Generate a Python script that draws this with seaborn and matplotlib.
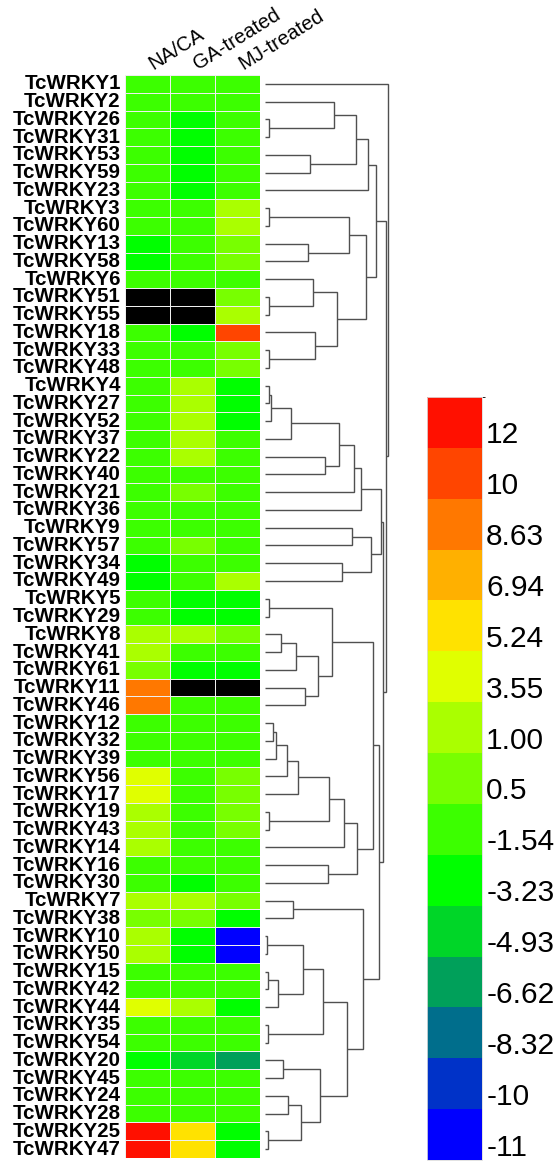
import numpy as np
import pandas as pd
import matplotlib
matplotlib.use("Agg")
import matplotlib.pyplot as plt
from matplotlib.colors import ListedColormap, BoundaryNorm
import matplotlib.transforms as mtransforms
import seaborn as sns

# ---------------- data ----------------
genes = ["TcWRKY1", "TcWRKY2", "TcWRKY26", "TcWRKY31", "TcWRKY53", "TcWRKY59", "TcWRKY23",
         "TcWRKY3", "TcWRKY60", "TcWRKY13", "TcWRKY58", "TcWRKY6", "TcWRKY51", "TcWRKY55",
         "TcWRKY18", "TcWRKY33", "TcWRKY48", "TcWRKY4", "TcWRKY27", "TcWRKY52", "TcWRKY37",
         "TcWRKY22", "TcWRKY40", "TcWRKY21", "TcWRKY36", "TcWRKY9", "TcWRKY57", "TcWRKY34",
         "TcWRKY49", "TcWRKY5", "TcWRKY29", "TcWRKY8", "TcWRKY41", "TcWRKY61", "TcWRKY11",
         "TcWRKY46", "TcWRKY12", "TcWRKY32", "TcWRKY39", "TcWRKY56", "TcWRKY17", "TcWRKY19",
         "TcWRKY43", "TcWRKY14", "TcWRKY16", "TcWRKY30", "TcWRKY7", "TcWRKY38", "TcWRKY10",
         "TcWRKY50", "TcWRKY15", "TcWRKY42", "TcWRKY44", "TcWRKY35", "TcWRKY54", "TcWRKY20",
         "TcWRKY45", "TcWRKY24", "TcWRKY28", "TcWRKY25", "TcWRKY47"]

treatments = ["NA/CA", "GA-treated", "MJ-treated"]

nan = np.nan
na_ca = [-1.5, -1.5, -1.5, -1.5, -1.5, -1.5, -1.5, -1.5, -1.5, -3.2, -3.2, -1.5, nan, nan,
         -1.5, -1.5, -1.5, -1.5, -1.5, -1.5, -1.5, -1.5, -1.5, -1.5, -1.5, -1.5, -1.5, -3.2,
         -3.2, -1.5, -1.5, 1.0, 1.0, 0.5, 8.6, 8.6, -1.5, -1.5, -1.5, 3.5, 3.5, 1.0,
         1.0, 1.0, -1.5, -1.5, 1.0, 0.5, 1.0, 1.0, -1.5, -1.5, 3.5, -1.5, -1.5, -3.2,
         -1.5, -1.5, -1.5, 12.0, 12.0]
ga_treated = [-1.5, -1.5, -3.2, -3.2, -3.2, -3.2, -3.2, -1.5, -1.5, -1.5, -1.5, -1.5, nan, nan,
              -3.2, -1.5, -1.5, 1.0, 1.0, 1.0, 1.0, 1.0, -1.5, 0.5, -1.5, -1.5, 0.5, -1.5,
              -1.5, -3.2, -3.2, 1.0, -1.5, -3.2, nan, -1.5, -1.5, -1.5, -1.5, -1.5, -1.5, -1.5,
              -1.5, -1.5, -1.5, -3.2, 1.0, 0.5, -3.2, -3.2, -1.5, -1.5, 1.0, -1.5, -1.5, -4.9,
              -1.5, -1.5, -1.5, 5.2, 5.2]
mj_treated = [-1.5, -1.5, -1.5, -1.5, -1.5, -1.5, -1.5, 1.0, 1.0, 0.5, 0.5, -1.5, 0.5, 1.0,
              10.0, 0.5, 0.5, -3.2, -3.2, -3.2, -1.5, -1.5, -1.5, -1.5, -1.5, -1.5, -1.5, -1.5,
              1.0, -3.2, -3.2, 0.5, -1.5, -3.2, nan, -1.5, -1.5, -1.5, -1.5, 0.5, 0.5, 0.5,
              0.5, -1.5, -1.5, -1.5, 0.5, -3.2, -11.0, -11.0, -1.5, -1.5, -3.2, -1.5, -1.5, -6.6,
              -1.5, -1.5, -1.5, -3.2, -3.2]

legend_labels = ["-11", "-10", "-8.32", "-6.62", "-4.93", "-3.23", "-1.54", "0.5",
                 "1.00", "3.55", "5.24", "6.94", "8.63", "10", "12"]
level_bounds = [-11.5, -10.5, -9.0, -7.5, -5.5, -4.0, -2.0, 0.0, 0.75, 2.0, 4.0, 6.0,
                7.5, 9.0, 11.0, 13.0]
level_colors = ["#0000FF", "#0032C8", "#006E8C", "#00A05A", "#00D628", "#00FF00", "#3CFF00",
                "#78FF00", "#AAFF00", "#E0FF00", "#FFE200", "#FFB000", "#FF7800", "#FF4500",
                "#FF1000"]

# dendrogram merges: (cluster id, left, right, height)
merges = [
    ("c01", "TcWRKY26", "TcWRKY31", 0.033),
    ("c02", "TcWRKY2", "c01", 0.561),
    ("c03", "TcWRKY53", "TcWRKY59", 0.366),
    ("c04", "c02", "c03", 0.740),
    ("c05", "c04", "TcWRKY23", 0.837),
    ("c06", "TcWRKY3", "TcWRKY60", 0.033),
    ("c07", "TcWRKY13", "TcWRKY58", 0.350),
    ("c08", "c06", "c07", 0.683),
    ("c09", "TcWRKY51", "TcWRKY55", 0.033),
    ("c10", "TcWRKY6", "c09", 0.390),
    ("c11", "TcWRKY33", "TcWRKY48", 0.033),
    ("c12", "TcWRKY18", "c11", 0.407),
    ("c13", "c10", "c12", 0.585),
    ("c14", "c08", "c13", 0.821),
    ("c15", "c05", "c14", 0.902),
    ("c16", "TcWRKY4", "TcWRKY27", 0.033),
    ("c17", "c16", "TcWRKY52", 0.049),
    ("c18", "c17", "TcWRKY37", 0.211),
    ("c19", "TcWRKY22", "TcWRKY40", 0.488),
    ("c20", "c18", "c19", 0.602),
    ("c21", "c20", "TcWRKY21", 0.724),
    ("c22", "c21", "TcWRKY36", 0.780),
    ("c23", "TcWRKY9", "TcWRKY57", 0.707),
    ("c24", "TcWRKY34", "TcWRKY49", 0.626),
    ("c25", "c23", "c24", 0.862),
    ("c26", "c22", "c25", 0.941),
    ("c27", "TcWRKY5", "TcWRKY29", 0.033),
    ("c28", "TcWRKY8", "TcWRKY41", 0.130),
    ("c29", "c28", "TcWRKY61", 0.252),
    ("c30", "TcWRKY11", "TcWRKY46", 0.325),
    ("c31", "c29", "c30", 0.431),
    ("c32", "c27", "c31", 0.545),
    ("c33", "TcWRKY12", "TcWRKY32", 0.065),
    ("c34", "c33", "TcWRKY39", 0.089),
    ("c35", "c34", "TcWRKY56", 0.179),
    ("c36", "c35", "TcWRKY17", 0.268),
    ("c37", "TcWRKY19", "TcWRKY43", 0.033),
    ("c38", "c36", "c37", 0.520),
    ("c39", "c38", "TcWRKY14", 0.642),
    ("c40", "TcWRKY16", "TcWRKY30", 0.512),
    ("c41", "c39", "c40", 0.748),
    ("c42", "c32", "c41", 0.878),
    ("c43", "TcWRKY7", "TcWRKY38", 0.228),
    ("c44", "TcWRKY10", "TcWRKY50", 0.016),
    ("c45", "TcWRKY15", "TcWRKY42", 0.024),
    ("c46", "c45", "TcWRKY44", 0.106),
    ("c47", "c44", "c46", 0.309),
    ("c48", "TcWRKY35", "TcWRKY54", 0.024),
    ("c49", "c47", "c48", 0.472),
    ("c50", "TcWRKY20", "TcWRKY45", 0.146),
    ("c51", "TcWRKY24", "TcWRKY28", 0.187),
    ("c52", "TcWRKY25", "TcWRKY47", 0.024),
    ("c53", "c51", "c52", 0.293),
    ("c54", "c50", "c53", 0.447),
    ("c55", "c49", "c54", 0.667),
    ("c56", "c43", "c55", 0.797),
    ("c57", "c42", "c56", 0.929),
    ("c58", "c26", "c57", 0.962),
    ("c59", "c15", "c58", 0.982),
    ("c60", "TcWRKY1", "c59", 1.000),
]

# ---------------- figure ----------------
plt.rcParams["font.family"] = ["Liberation Sans", "DejaVu Sans"]
W, H = 556, 1162
fig = plt.figure(figsize=(W / 100, H / 100), dpi=100)

hm_top, hm_bot = 75, 1158
hm_ax = fig.add_axes([125 / W, (H - hm_bot) / H, 135 / W, (hm_bot - hm_top) / H])
dn_ax = fig.add_axes([260 / W, (H - hm_bot) / H, 135 / W, (hm_bot - hm_top) / H])
cb_ax = fig.add_axes([427 / W, (H - 1160) / H, 55 / W, (1160 - 397) / H])

df = pd.DataFrame({"NA/CA": na_ca, "GA-treated": ga_treated, "MJ-treated": mj_treated},
                  index=genes)[treatments]

cmap = ListedColormap(level_colors)
cmap.set_bad("black")
norm = BoundaryNorm(level_bounds, cmap.N)

sns.heatmap(df, ax=hm_ax, cmap=cmap, norm=norm, cbar_ax=cb_ax,
            linewidths=0.6, linecolor="#eeeeee",
            xticklabels=True, yticklabels=True)
hm_ax.set_facecolor("black")

# row labels
hm_ax.set_ylabel("")
hm_ax.set_yticklabels(genes, rotation=0, fontsize=14.8, fontweight="bold", color="black")
hm_ax.tick_params(axis="y", length=0, pad=3)

# column labels on top
hm_ax.xaxis.tick_top()
hm_ax.set_xlabel("")
hm_ax.set_xticklabels(treatments, rotation=32, ha="left", va="bottom",
                      rotation_mode="anchor", fontsize=14.5, color="black")
hm_ax.tick_params(axis="x", length=0, pad=1)
shift = mtransforms.ScaledTranslation(8 / 100, 0, fig.dpi_scale_trans)
for tk in hm_ax.xaxis.get_major_ticks():
    tk.label2.set_transform(tk.label2.get_transform() + shift)

# colorbar
cb = hm_ax.collections[0].colorbar
cb.set_ticks(level_bounds[:-1])
cb.set_ticklabels(legend_labels)
cb_ax.tick_params(length=0, labelsize=21.5, pad=3)
down = mtransforms.ScaledTranslation(0, -1.5 / 100, fig.dpi_scale_trans)
for t in cb_ax.get_yticklabels():
    t.set_va("bottom")
    t.set_transform(t.get_transform() + down)
cb.outline.set_linewidth(0.6)
cb.outline.set_edgecolor("#dddddd")

# dendrogram
pos = {g: i + 0.5 for i, g in enumerate(genes)}
hgt = {g: 0.0 for g in genes}
for cid, a, b, h in merges:
    ya, yb = pos[a], pos[b]
    dn_ax.plot([hgt[a], h, h, hgt[b]], [ya, ya, yb, yb],
               color="#505050", lw=1.0, solid_capstyle="butt", solid_joinstyle="miter")
    pos[cid] = (ya + yb) / 2
    hgt[cid] = h
dn_ax.set_ylim(len(genes), 0)
dn_ax.set_xlim(-5 / 123, 130 / 123)
dn_ax.axis("off")

fig.savefig("out.png", dpi=100)
